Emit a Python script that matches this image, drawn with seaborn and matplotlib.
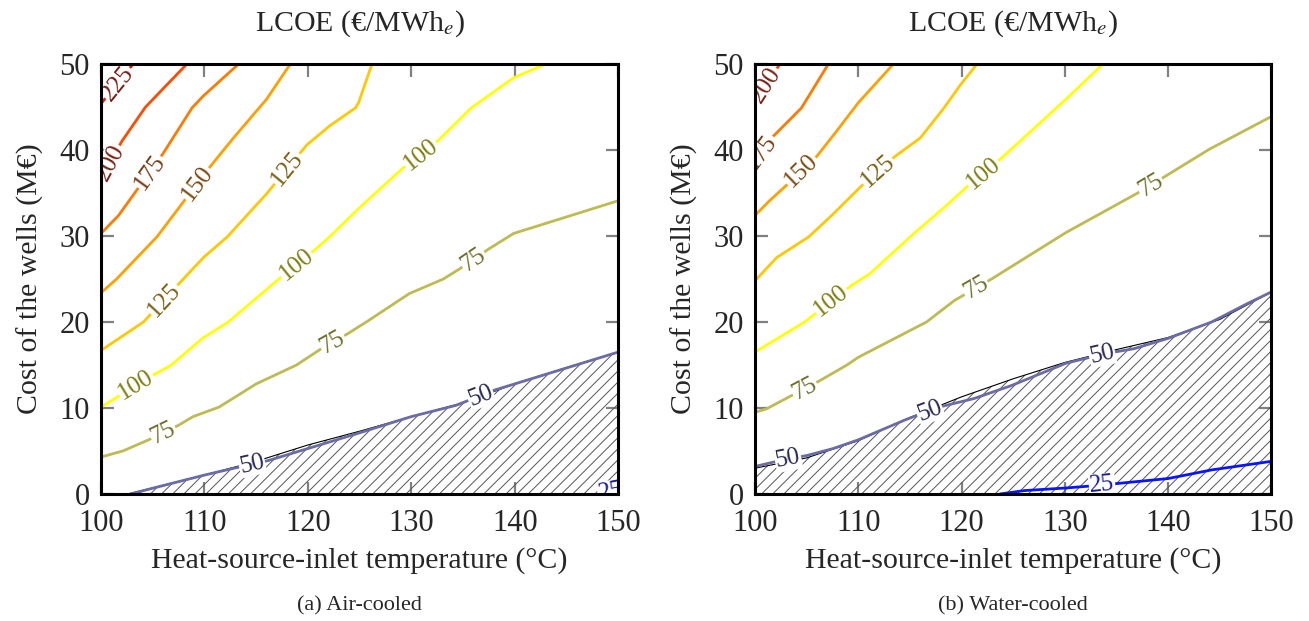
import numpy as np
import pandas as pd
import seaborn as sns
import matplotlib.pyplot as plt

# LCOE iso-lines: temperature (°C) vs cost of the wells (M€)
LEVELS = [25, 50, 75, 100, 125, 150, 175, 200, 225]

# (a) Air-cooled
air_t_225 = [100.0, 103.1]
air_c_225 = [45.4, 50.0]
air_t_200 = [100.0, 102.0, 104.3, 108.3]
air_c_200 = [36.5, 41.0, 45.0, 50.0]
air_t_175 = [100.0, 101.7, 106.0, 108.8, 109.9, 113.3]
air_c_175 = [30.3, 32.4, 39.6, 44.9, 46.3, 50.0]
air_t_150 = [100.0, 101.5, 105.4, 110.5, 112.8, 116.0, 118.3]
air_c_150 = [23.4, 25.0, 29.9, 38.0, 41.4, 45.9, 50.0]
air_t_125 = [100.0, 104.1, 107.8, 109.9, 112.2, 116.0, 119.9, 122.1, 124.6, 124.9, 126.2]
air_c_125 = [16.7, 20.0, 24.8, 27.5, 29.9, 34.9, 40.6, 42.8, 44.9, 45.5, 50.0]
air_t_100 = [100.0, 101.6, 105.0, 106.8, 109.8, 112.3, 116.8, 120.4, 122.1, 125.0, 129.1,
             132.6, 135.8, 139.9, 143.0]
air_c_100 = [10.1, 11.3, 13.8, 15.0, 18.1, 20.0, 24.6, 28.1, 29.9, 33.3, 37.8,
             41.1, 44.9, 48.4, 50.0]
air_t_75 = [100.0, 102.1, 104.6, 107.5, 108.9, 111.4, 115.0, 118.9, 121.3, 123.8, 125.9,
            129.8, 133.1, 134.7, 137.5, 139.9, 150.0]
air_c_75 = [4.3, 5.0, 6.3, 8.0, 9.0, 10.1, 12.8, 15.0, 16.9, 18.6, 20.2,
            23.3, 25.0, 26.2, 28.5, 30.3, 34.1]
air_t_50 = [102.8, 110.0, 112.5, 116.2, 124.7, 130.0, 134.3, 138.1, 150.0]
air_c_50 = [0.0, 2.2, 2.9, 3.9, 7.0, 9.0, 10.3, 12.1, 16.5]
air_t_25 = [148.3, 150.0]
air_c_25 = [0.0, 0.4]
air_hatch_t = [102.6, 110.0, 115.0, 120.0, 125.0, 130.0, 135.0, 140.0, 145.0, 150.0]
air_hatch_c = [0.0, 2.2, 3.8, 5.7, 7.3, 9.0, 10.6, 12.8, 14.7, 16.5]
air_label_levels = [225, 200, 175, 150, 125, 125, 100, 100, 100, 75, 75, 75, 50, 50, 25]
air_label_t = [101.6, 100.9, 104.7, 109.3, 106.1, 118.0, 103.4, 118.9, 130.9,
               106.0, 122.4, 136.0, 114.6, 136.7, 149.3]

# (b) Water-cooled
wat_t_200 = [100.0, 102.4]
wat_c_200 = [45.5, 50.0]
wat_t_175 = [100.0, 101.6, 104.5, 107.1]
wat_c_175 = [38.8, 41.4, 44.9, 50.0]
wat_t_150 = [100.0, 101.4, 103.5, 106.0, 107.9, 110.0, 113.4]
wat_c_150 = [32.4, 34.1, 36.4, 39.3, 42.2, 45.5, 50.0]
wat_t_125 = [100.0, 102.1, 105.2, 107.6, 110.2, 113.6, 116.0, 118.3, 119.9, 121.5]
wat_c_125 = [24.8, 27.5, 29.9, 32.6, 35.7, 39.3, 41.4, 44.9, 47.6, 50.0]
wat_t_100 = [100.0, 104.8, 109.4, 111.1, 115.3, 118.3, 120.5, 123.9, 130.1, 133.7]
wat_c_100 = [16.5, 20.0, 24.3, 25.6, 30.2, 33.3, 35.7, 39.1, 45.9, 50.0]
wat_t_75 = [100.0, 101.1, 106.3, 108.9, 110.0, 116.6, 119.3, 122.9, 130.1, 136.9,
            139.8, 144.0, 150.0]
wat_c_75 = [9.5, 9.9, 13.2, 15.0, 15.9, 20.0, 22.5, 25.0, 30.4, 34.9,
            37.0, 40.1, 43.9]
wat_t_50 = [100.0, 102.1, 105.1, 107.6, 110.0, 114.5, 117.8, 121.2, 124.8, 130.1,
            133.8, 136.7, 140.0, 144.2, 147.6, 150.0]
wat_c_50 = [3.2, 3.8, 4.5, 5.3, 6.3, 8.6, 10.1, 11.1, 12.6, 15.2,
            16.3, 16.9, 18.1, 20.0, 22.1, 23.5]
wat_t_25 = [123.7, 126.1, 130.1, 133.2, 136.6, 140.0, 144.2, 150.0]
wat_c_25 = [0.0, 0.4, 0.7, 1.0, 1.4, 1.8, 2.8, 3.8]
wat_hatch_t = [100.0, 105.0, 110.0, 115.0, 120.0, 125.0, 130.0, 135.0, 140.0, 145.0, 150.0]
wat_hatch_c = [3.0, 4.2, 6.2, 8.9, 11.3, 13.4, 15.3, 16.8, 18.2, 20.3, 23.5]
wat_label_levels = [200, 175, 150, 125, 100, 100, 75, 75, 75, 50, 50, 50, 25]
wat_label_t = [101.1, 100.6, 104.5, 111.9, 107.4, 122.1, 104.8, 121.4, 138.3,
               103.2, 116.9, 133.6, 133.6]

LINE_COLORS = {25: "#0a14ff", 50: "#6b6ba6", 75: "#bdbb52", 100: "#ffff00",
               125: "#ffc800", 150: "#ffa000", 175: "#ff7a00", 200: "#ff4a00",
               225: "#e02000"}
TEXT_COLORS = {25: "#1a1a9a", 50: "#2a2a55", 75: "#6e6e2a", 100: "#7f7f10",
               125: "#7a6010", 150: "#7a4a10", 175: "#7a3a10", 200: "#7a2010",
               225: "#7a1a10"}


def to_long(panel, pieces):
    rows = []
    for level, t, c in pieces:
        rows.append(pd.DataFrame({"panel": panel, "level": level, "T": t, "C": c}))
    return pd.concat(rows, ignore_index=True)


air = to_long("air", [(225, air_t_225, air_c_225), (200, air_t_200, air_c_200),
                      (175, air_t_175, air_c_175), (150, air_t_150, air_c_150),
                      (125, air_t_125, air_c_125), (100, air_t_100, air_c_100),
                      (75, air_t_75, air_c_75), (50, air_t_50, air_c_50),
                      (25, air_t_25, air_c_25)])
wat = to_long("water", [(200, wat_t_200, wat_c_200), (175, wat_t_175, wat_c_175),
                        (150, wat_t_150, wat_c_150), (125, wat_t_125, wat_c_125),
                        (100, wat_t_100, wat_c_100), (75, wat_t_75, wat_c_75),
                        (50, wat_t_50, wat_c_50), (25, wat_t_25, wat_c_25)])

sns.set_style("ticks")
plt.rcParams["font.family"] = ["Liberation Serif", "DejaVu Serif"]
plt.rcParams["mathtext.fontset"] = "stix"
plt.rcParams["hatch.linewidth"] = 0.7
plt.rcParams["hatch.color"] = "#555555"

fig = plt.figure(figsize=(13.09, 6.21), dpi=100)
ax_a = fig.add_axes([0.0772, 0.2045, 0.395, 0.6924])
ax_b = fig.add_axes([0.5768, 0.2045, 0.3945, 0.6924])

panels = [
    (ax_a, air, air_hatch_t, air_hatch_c, air_label_levels, air_label_t, "(a) Air-cooled"),
    (ax_b, wat, wat_hatch_t, wat_hatch_c, wat_label_levels, wat_label_t, "(b) Water-cooled"),
]

for ax, df, ht, hc, lab_lv, lab_t, caption in panels:
    ax.set_xlim(100, 150)
    ax.set_ylim(0, 50)

    # hatched region below the 50 line
    ax.fill_between(ht, 0, hc, facecolor="none", edgecolor="#555555",
                    hatch="///", linewidth=0, zorder=1)
    ax.plot(ht, hc, color="black", linewidth=0.8, zorder=1.5)

    sns.lineplot(data=df, x="T", y="C", hue="level", palette=LINE_COLORS,
                 units="level", estimator=None, sort=False, legend=False,
                 linewidth=2.0, ax=ax, zorder=2)

    for lv, t in zip(lab_lv, lab_t):
        seg = df[df["level"] == lv]
        c = np.interp(t, seg["T"], seg["C"])
        p0 = ax.transData.transform((t - 0.4, np.interp(t - 0.4, seg["T"], seg["C"])))
        p1 = ax.transData.transform((t + 0.4, np.interp(t + 0.4, seg["T"], seg["C"])))
        ang = np.degrees(np.arctan2(p1[1] - p0[1], p1[0] - p0[0]))
        ax.text(t, c, str(lv), color=TEXT_COLORS[lv], fontsize=18, rotation=ang,
                rotation_mode="anchor", ha="center", va="center", zorder=3,
                clip_on=True,
                bbox=dict(facecolor="white", edgecolor="none", pad=0.5))

    ax.set_xticks([100, 110, 120, 130, 140, 150])
    ax.set_yticks([0, 10, 20, 30, 40, 50])
    ax.tick_params(direction="in", length=9, width=1.6, color="#808080",
                   top=True, right=True, labelsize=22)
    ax.tick_params(axis="x", pad=11)
    ax.tick_params(axis="y", pad=8)
    for sp in ax.spines.values():
        sp.set_linewidth(2.2)
        sp.set_color("black")
        sp.set_zorder(4)
    ax.set_xlabel("Heat-source-inlet temperature (°C)", fontsize=21.5, labelpad=6)
    ax.set_ylabel("Cost of the wells (M€)", fontsize=21.5, labelpad=11)
    ax.set_title("LCOE (€/MWh$_e$)", fontsize=21.5, pad=24)
    bb = ax.get_position()
    fig.text((bb.x0 + bb.x1) / 2, 0.024, caption, ha="center", va="center", fontsize=16)

fig.savefig("out.png", dpi=100)
